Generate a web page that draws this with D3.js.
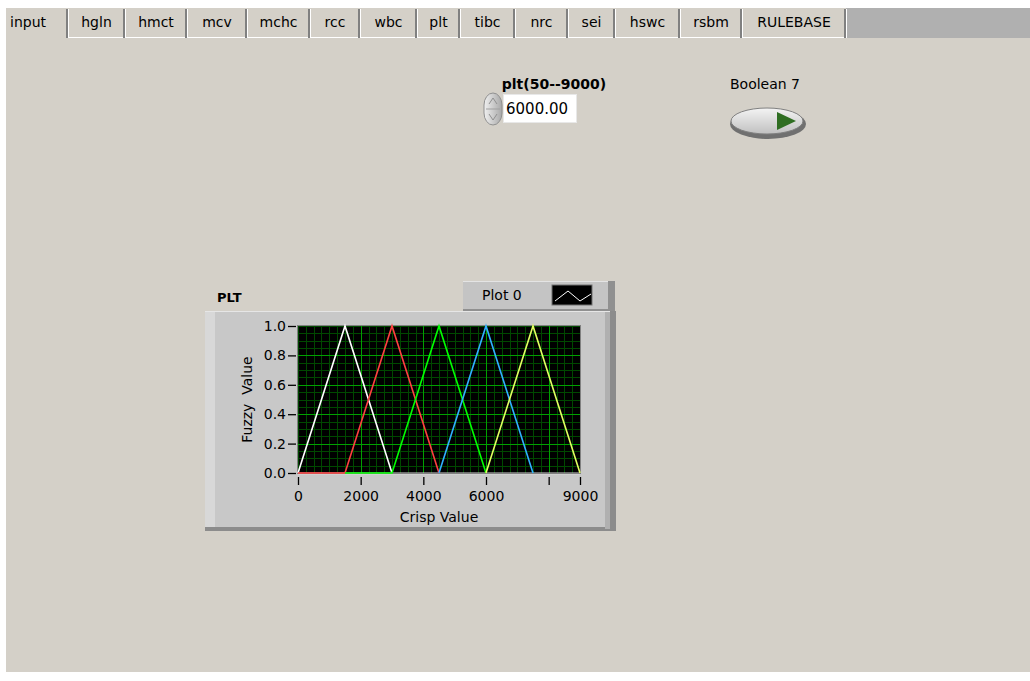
<!DOCTYPE html>
<html><head><meta charset="utf-8">
<script src="https://cdn.jsdelivr.net/npm/d3@7"></script>
<style>
html,body{margin:0;padding:0;background:#fff;}
svg{display:block;font-family:Tahoma,"DejaVu Sans",sans-serif;}
</style></head>
<body>
<svg id="c" width="1030" height="681"></svg>
<script>
// ---- data ----
const tabs = ["input","hgln","hmct","mcv","mchc","rcc","wbc","plt","tibc","nrc","sei","hswc","rsbm","RULEBASE"];
const tabEdges = [6,68,125,187,247,310,360,417,460,515,568,615,680,742,846];
const xTicks = [0,2000,4000,6000,8000,9000];
const xTickLabels = ["0","2000","4000","6000","","9000"];
const yTicks = [0,0.2,0.4,0.6,0.8,1.0];
const yTickLabels = ["0.0","0.2","0.4","0.6","0.8","1.0"];
const xMinor = d3.range(0, 9001, 250);
const yMinor = d3.range(0, 1.0001, 0.05);
const xMajorGrid = [2000,4000,6000,8000];
const yMajorGrid = [0.2,0.4,0.6,0.8];
const seriesNames = ["white","red","green","blue","yellow"];
const seriesColors = ["#ffffff","#ff4040","#00ff00","#30b0ff","#e0ff60"];
const whiteX = [0,1500,3000],        whiteY = [0,1,0];
const redX = [0,1500,3000,4500],     redY = [0,0,1,0];
const greenX = [1500,3000,4500,6000],greenY = [0,0,1,0];
const blueX = [4500,6000,7500],      blueY = [0,1,0];
const yellowX = [6000,7500,9000],    yellowY = [0,1,0];
const seriesX = [whiteX,redX,greenX,blueX,yellowX];
const seriesY = [whiteY,redY,greenY,blueY,yellowY];
const controlLabel = "plt(50--9000)";
const controlValue = "6000.00";
const boolLabel = "Boolean 7";
const graphLabel = "PLT";
const legendLabel = "Plot 0";
const xTitle = "Crisp Value";
const yTitle = "Fuzzy  Value";

const svg = d3.select("#c");
// panel
svg.append("rect").attr("x",6).attr("y",8).attr("width",1024).attr("height",664).attr("fill","#d4d0c8");
// tab strip
svg.append("rect").attr("x",846).attr("y",8).attr("width",184).attr("height",30).attr("fill","#b0b0b0");
tabs.forEach((t,i)=>{
  const x0 = tabEdges[i], x1 = tabEdges[i+1];
  if(i>0){
    svg.append("line").attr("x1",x0+0.5).attr("x2",x1-0.5).attr("y1",37.5).attr("y2",37.5).attr("stroke","#ffffff");
  }
  svg.append("line").attr("x1",x1-1).attr("x2",x1-1).attr("y1",9).attr("y2",38).attr("stroke","#808080").attr("stroke-width",2);
  svg.append("line").attr("x1",x1+0.5).attr("x2",x1+0.5).attr("y1",9).attr("y2",38).attr("stroke","#ffffff");
  svg.append("text").attr("x",(i===0? x0+4 : (x0+x1)/2)).attr("y",27)
    .attr("text-anchor", i===0?"start":"middle").attr("font-size",14).attr("fill","#000").text(t);
});

// numeric control
svg.append("text").attr("x",554).attr("y",89).attr("text-anchor","middle").attr("font-size",14).attr("font-weight","bold").text(controlLabel);
svg.append("rect").attr("x",503.5).attr("y",94.5).attr("width",73).attr("height",28).attr("fill","#fff").attr("stroke","#e8e8e8");
svg.append("text").attr("x",506).attr("y",114).attr("font-size",15).text(controlValue);
const sg = svg.append("defs").append("linearGradient").attr("id","spin").attr("x1",0).attr("y1",0).attr("x2",1).attr("y2",0);
sg.append("stop").attr("offset","0%").attr("stop-color","#f0f0f0");
sg.append("stop").attr("offset","100%").attr("stop-color","#a8a8a8");
const spin = svg.append("g");
spin.append("rect").attr("x",484).attr("y",93).attr("width",18).attr("height",32).attr("rx",9).attr("ry",12).attr("fill","url(#spin)").attr("stroke","#909090");
spin.append("path").attr("d","M489,104 L493,98 L497,104").attr("fill","none").attr("stroke","#909090");
spin.append("path").attr("d","M489,114 L493,120 L497,114").attr("fill","none").attr("stroke","#909090");
spin.append("line").attr("x1",486).attr("x2",500).attr("y1",109).attr("y2",109).attr("stroke","#a0a0a0");

// boolean
svg.append("text").attr("x",765).attr("y",89).attr("text-anchor","middle").attr("font-size",14).text(boolLabel);
const defs = svg.append("defs");
const lg = defs.append("linearGradient").attr("id","btn").attr("x1",0).attr("y1",0).attr("x2",0).attr("y2",1);
lg.append("stop").attr("offset","0%").attr("stop-color","#f4f4f4");
lg.append("stop").attr("offset","100%").attr("stop-color","#c0c0c0");
svg.append("ellipse").attr("cx",768).attr("cy",124).attr("rx",38).attr("ry",15).attr("fill","#707070");
svg.append("ellipse").attr("cx",767).attr("cy",121).attr("rx",36).attr("ry",13).attr("fill","url(#btn)").attr("stroke","#808080");
svg.append("path").attr("d","M777,112 L796,121 L777,130 Z").attr("fill","#2f6e22");

// graph label
svg.append("text").attr("x",217).attr("y",302).attr("font-size",13).attr("font-weight","bold").text(graphLabel);

// legend
svg.append("rect").attr("x",463).attr("y",281).attr("width",152).attr("height",30).attr("fill","#909090");
svg.append("rect").attr("x",463).attr("y",281).attr("width",145).attr("height",28).attr("fill","#c4c4c4");
svg.append("line").attr("x1",463).attr("x2",608).attr("y1",281.5).attr("y2",281.5).attr("stroke","#e4e4e4");
svg.append("text").attr("x",482).attr("y",300).attr("font-size",14).text(legendLabel);
svg.append("rect").attr("x",552).attr("y",285).attr("width",40).attr("height",20).attr("fill","#000").attr("stroke","#707070");
svg.append("path").attr("d","M555,301 L568,291 L580,301 L591,294").attr("fill","none").attr("stroke","#fff").attr("stroke-width",1);

// graph frame
svg.append("rect").attr("x",205).attr("y",311).attr("width",411).attr("height",220).attr("fill","#8c8c8c");
svg.append("rect").attr("x",205).attr("y",311).attr("width",400).attr("height",216).attr("fill","#c8c8c8");
svg.append("rect").attr("x",205).attr("y",311).attr("width",10).attr("height",216).attr("fill","#d8d8d8");
svg.append("rect").attr("x",605).attr("y",311).attr("width",5).attr("height",218).attr("fill","#b0b0b0");
svg.append("line").attr("x1",205).attr("x2",610).attr("y1",311.5).attr("y2",311.5).attr("stroke","#e6e6e6");

// plot
const L=298, R=580, T=326, B=473;
const x = d3.scaleLinear().domain([0,9000]).range([L,R]);
const y = d3.scaleLinear().domain([0,1]).range([B,T]);
svg.append("rect").attr("x",L).attr("y",T).attr("width",R-L).attr("height",B-T).attr("fill","#000");
const grid = svg.append("g");
grid.selectAll(".vm").data(xMinor).enter().append("line")
  .attr("x1",d=>Math.round(x(d))+0.5).attr("x2",d=>Math.round(x(d))+0.5).attr("y1",T).attr("y2",B).attr("stroke","#004800");
grid.selectAll(".hm").data(yMinor).enter().append("line")
  .attr("y1",d=>Math.round(y(d))+0.5).attr("y2",d=>Math.round(y(d))+0.5).attr("x1",L).attr("x2",R).attr("stroke","#004800");
grid.selectAll(".vM").data(xMajorGrid).enter().append("line")
  .attr("x1",d=>Math.round(x(d))+0.5).attr("x2",d=>Math.round(x(d))+0.5).attr("y1",T).attr("y2",B).attr("stroke","#00a000");
grid.selectAll(".hM").data(yMajorGrid).enter().append("line")
  .attr("y1",d=>Math.round(y(d))+0.5).attr("y2",d=>Math.round(y(d))+0.5).attr("x1",L).attr("x2",R).attr("stroke","#00a000");
svg.append("line").attr("x1",L).attr("x2",R).attr("y1",B+0.5).attr("y2",B+0.5).attr("stroke","#d8d8d8").attr("stroke-width",2);
svg.append("rect").attr("x",L-0.5).attr("y",T-0.5).attr("width",R-L+1).attr("height",B-T+1).attr("fill","none").attr("stroke","#808080");

const line = d3.line().x(d=>x(d[0])).y(d=>y(d[1]));
seriesX.forEach((xs,i)=>{
  const pts = xs.map((v,j)=>[v, seriesY[i][j]]);
  svg.append("path").attr("d",line(pts)).attr("fill","none").attr("stroke",seriesColors[i]).attr("stroke-width",1.6);
});

// axes
const xAxis = d3.axisBottom(x).tickValues(xTicks).tickSize(8).tickFormat((d,i)=>xTickLabels[i]);
const gx = svg.append("g").attr("transform",`translate(0,${B+4})`).call(xAxis);
gx.select(".domain").remove();
gx.selectAll("line").attr("stroke","#000").attr("stroke-width",1.3);
gx.selectAll("text").attr("font-size",14).attr("font-family","Tahoma,'DejaVu Sans',sans-serif").attr("fill","#000").attr("dy","0.9em");
const yAxis = d3.axisLeft(y).tickValues(yTicks).tickSize(8).tickFormat((d,i)=>yTickLabels[i]);
const gy = svg.append("g").attr("transform",`translate(${L-2},0)`).call(yAxis);
gy.select(".domain").remove();
gy.selectAll("line").attr("stroke","#000").attr("stroke-width",1.3);
gy.selectAll("text").attr("font-size",14).attr("font-family","Tahoma,'DejaVu Sans',sans-serif").attr("fill","#000").attr("x",-10);

svg.append("text").attr("x",(L+R)/2).attr("y",522).attr("text-anchor","middle").attr("font-size",14).text(xTitle);
svg.append("text").attr("transform",`translate(252,${(T+B)/2}) rotate(-90)`).attr("text-anchor","middle").attr("font-size",14).attr("xml:space","preserve").text(yTitle);
</script>
</body></html>
